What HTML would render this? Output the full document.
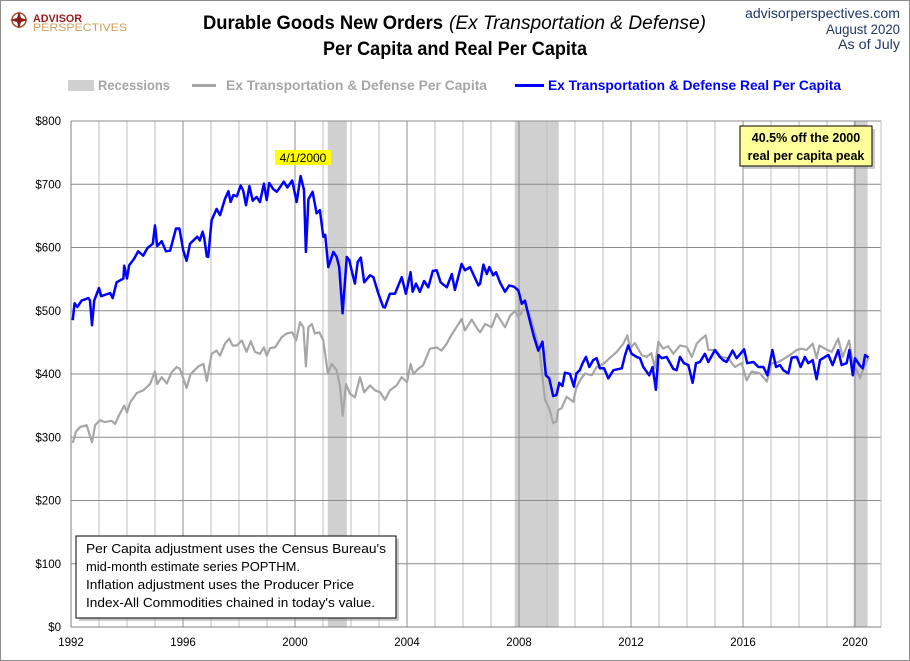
<!DOCTYPE html>
<html><head><meta charset="utf-8"><style>
body{margin:0;background:#fff;}
svg{display:block;font-family:"Liberation Sans",sans-serif;}
</style></head><body>
<svg id="chart" width="910" height="661" viewBox="0 0 910 661">
<rect x="0.5" y="0.5" width="909" height="660" fill="#fff" stroke="#8c8c8c"/>
<g>
<circle cx="19" cy="20" r="7" fill="none" stroke="#a0522d" stroke-width="1.5"/>
<path d="M19 11 L21 18 L28 20 L21 22 L19 29 L17 22 L10 20 L17 18 Z" fill="#8b1a1a"/>
<text x="33" y="22" font-size="11" font-weight="bold" fill="#9b1c1c" textLength="49" lengthAdjust="spacingAndGlyphs">ADVISOR</text>
<text x="33" y="31" font-size="11" fill="#c9a15a" textLength="94" lengthAdjust="spacingAndGlyphs">PERSPECTIVES</text>
</g>
<text x="203" y="29" font-size="19" font-weight="bold" fill="#000" textLength="240" lengthAdjust="spacingAndGlyphs">Durable Goods New Orders</text>
<text x="449" y="29" font-size="19" font-style="italic" fill="#000" textLength="257" lengthAdjust="spacingAndGlyphs">(Ex Transportation &amp; Defense)</text>
<text x="323" y="55" font-size="19" font-weight="bold" fill="#000" textLength="264" lengthAdjust="spacingAndGlyphs">Per Capita and Real Per Capita</text>
<g fill="#1f3864" font-size="14" text-anchor="end">
<text x="900" y="18" textLength="155" lengthAdjust="spacingAndGlyphs">advisorperspectives.com</text>
<text x="900" y="34" textLength="74" lengthAdjust="spacingAndGlyphs">August 2020</text>
<text x="900" y="49" textLength="62" lengthAdjust="spacingAndGlyphs">As of July</text>
</g>
<g>
<rect x="68" y="80" width="26" height="11" fill="#d0d0d0"/>
<text x="98" y="90" font-size="14" font-weight="bold" fill="#a6a6a6" textLength="72" lengthAdjust="spacingAndGlyphs">Recessions</text>
<line x1="192" y1="85.5" x2="216" y2="85.5" stroke="#a6a6a6" stroke-width="3"/>
<text x="226" y="90" font-size="14" font-weight="bold" fill="#a6a6a6" textLength="261" lengthAdjust="spacingAndGlyphs">Ex Transportation &amp; Defense Per Capita</text>
<line x1="515" y1="85.5" x2="544" y2="85.5" stroke="#0000ff" stroke-width="3"/>
<text x="548" y="90" font-size="14" font-weight="bold" fill="#0000ff" textLength="293" lengthAdjust="spacingAndGlyphs">Ex Transportation &amp; Defense Real Per Capita</text>
</g>
<g id="rec"></g>
<g id="grid"></g>
<g id="axes"></g>
<g id="series"></g>
<g>
<rect x="275" y="150" width="56" height="15" fill="#ffff00"/>
<text x="303" y="162" font-size="12" text-anchor="middle" fill="#000">4/1/2000</text>
</g>
<g>
<rect x="743" y="129" width="132" height="40" fill="#999" opacity="0.5"/>
<rect x="740" y="126" width="132" height="40" fill="#ffff99" stroke="#000"/>
<text x="806" y="142" font-size="12.5" font-weight="bold" text-anchor="middle">40.5% off the 2000</text>
<text x="806" y="160" font-size="12.5" font-weight="bold" text-anchor="middle">real per capita peak</text>
</g>
<g>
<rect x="79" y="539" width="320" height="82" fill="#999" opacity="0.5"/>
<rect x="76" y="536" width="320" height="82" fill="#fff" stroke="#000"/>
<g font-size="12.5" fill="#000">
<text x="86" y="553" textLength="300" lengthAdjust="spacingAndGlyphs">Per Capita adjustment uses the Census Bureau's</text>
<text x="86" y="571" textLength="214" lengthAdjust="spacingAndGlyphs">mid-month estimate series POPTHM.</text>
<text x="86" y="589" textLength="268" lengthAdjust="spacingAndGlyphs">Inflation adjustment uses the Producer Price</text>
<text x="86" y="607" textLength="289" lengthAdjust="spacingAndGlyphs">Index-All Commodities chained in today's value.</text>
</g>
</g>
</svg>
<script>
const yTicks=[0,100,200,300,400,500,600,700,800];
const xTickYears=[1992,1996,2000,2004,2008,2012,2016,2020];
const recStart=[2001.17,2007.85,2019.95];
const recEnd=[2001.85,2009.42,2020.45];
const realYears=[1992.06,1992.13,1992.23,1992.38,1992.62,1992.68,1992.75,1992.83,1993.0,1993.08,1993.4,1993.49,1993.63,1993.87,1993.9,1994.0,1994.08,1994.25,1994.4,1994.58,1994.73,1994.92,1995.0,1995.08,1995.24,1995.39,1995.54,1995.75,1995.87,1996.01,1996.13,1996.25,1996.51,1996.6,1996.7,1996.76,1996.85,1996.9,1997.02,1997.2,1997.32,1997.5,1997.62,1997.7,1997.8,1997.92,1998.06,1998.15,1998.25,1998.37,1998.49,1998.63,1998.75,1998.89,1998.99,1999.08,1999.23,1999.35,1999.6,1999.73,1999.9,2000.06,2000.2,2000.32,2000.39,2000.48,2000.63,2000.77,2000.89,2001.01,2001.08,2001.19,2001.37,2001.49,2001.58,2001.7,2001.85,2001.94,2002.02,2002.14,2002.24,2002.35,2002.47,2002.68,2002.8,2002.98,2003.15,2003.21,2003.39,2003.57,2003.81,2003.96,2004.13,2004.2,2004.32,2004.46,2004.61,2004.76,2004.92,2005.06,2005.2,2005.42,2005.6,2005.71,2005.95,2006.07,2006.25,2006.55,2006.61,2006.73,2006.85,2006.94,2007.08,2007.18,2007.32,2007.5,2007.65,2007.82,2007.98,2008.1,2008.21,2008.39,2008.54,2008.69,2008.84,2008.96,2009.08,2009.22,2009.34,2009.44,2009.55,2009.64,2009.82,2009.96,2010.05,2010.17,2010.27,2010.39,2010.51,2010.65,2010.77,2010.89,2011.04,2011.19,2011.37,2011.67,2011.79,2011.9,2012.02,2012.2,2012.32,2012.44,2012.65,2012.77,2012.89,2012.98,2013.1,2013.27,2013.51,2013.63,2013.75,2013.89,2014.05,2014.2,2014.32,2014.46,2014.64,2014.76,2015.0,2015.17,2015.29,2015.41,2015.63,2015.77,2016.04,2016.15,2016.37,2016.55,2016.73,2016.87,2017.05,2017.18,2017.32,2017.44,2017.62,2017.74,2017.92,2018.06,2018.21,2018.33,2018.49,2018.63,2018.75,2018.93,2019.05,2019.2,2019.4,2019.52,2019.7,2019.8,2019.92,2020.0,2020.16,2020.28,2020.36,2020.48];
const realValues=[485,512,506,516,520,516,477,516,536,523,528,520,545,551,571,551,572,582,594,587,599,606,635,602,610,594,595,630,630,595,579,606,617,611,625,614,586,585,643,661,651,677,689,672,683,681,698,690,667,697,674,680,672,701,675,702,692,688,704,695,706,672,713,691,593,676,688,654,659,617,620,569,593,585,569,496,585,580,564,543,577,584,545,556,553,527,506,505,527,527,553,527,561,530,543,530,547,537,563,564,545,537,558,533,574,564,569,540,543,573,558,569,556,561,545,530,540,538,532,511,516,484,458,437,451,398,393,365,367,386,381,402,400,380,401,406,417,427,411,422,425,409,409,393,406,409,430,445,432,427,425,411,398,411,375,430,425,427,408,406,427,417,414,386,417,419,432,419,438,427,422,419,437,425,439,417,419,411,411,398,438,411,414,406,401,426,427,411,427,417,422,392,422,427,430,414,438,414,417,438,398,425,414,409,430,426];
const nomYears=[1992.06,1992.18,1992.32,1992.56,1992.75,1992.86,1993.04,1993.21,1993.45,1993.57,1993.73,1993.9,1994.0,1994.11,1994.35,1994.58,1994.82,1995.0,1995.08,1995.24,1995.42,1995.6,1995.77,1995.89,1996.13,1996.27,1996.55,1996.73,1996.85,1997.02,1997.2,1997.32,1997.5,1997.65,1997.77,1997.92,1998.1,1998.27,1998.42,1998.57,1998.75,1998.89,1998.99,1999.11,1999.29,1999.52,1999.7,1999.9,2000.04,2000.18,2000.3,2000.39,2000.48,2000.6,2000.71,2000.87,2001.01,2001.17,2001.31,2001.49,2001.61,2001.7,2001.82,2001.96,2002.14,2002.32,2002.47,2002.68,2002.86,2003.04,2003.21,2003.39,2003.63,2003.81,2004.0,2004.13,2004.23,2004.4,2004.58,2004.82,2005.06,2005.23,2005.42,2005.54,2005.65,2005.95,2006.07,2006.31,2006.55,2006.61,2006.79,2007.02,2007.2,2007.5,2007.68,2007.86,2007.98,2008.15,2008.33,2008.45,2008.61,2008.75,2008.93,2009.08,2009.22,2009.34,2009.4,2009.52,2009.7,2009.94,2010.04,2010.18,2010.36,2010.6,2010.77,2011.01,2011.31,2011.49,2011.73,2011.87,2011.96,2012.14,2012.38,2012.55,2012.73,2012.85,2012.98,2013.15,2013.33,2013.51,2013.75,2013.99,2014.17,2014.35,2014.52,2014.67,2014.76,2015.0,2015.23,2015.47,2015.71,2015.95,2016.13,2016.31,2016.61,2016.85,2017.03,2017.27,2017.5,2017.74,2017.92,2018.1,2018.27,2018.49,2018.63,2018.73,2018.93,2019.17,2019.4,2019.56,2019.79,2019.92,2020.06,2020.18,2020.32,2020.48];
const nomValues=[291,309,316,319,292,319,327,324,326,321,336,350,339,355,370,374,384,404,384,395,385,403,411,408,378,400,412,416,389,432,437,429,448,456,445,445,453,435,452,435,432,442,429,441,442,458,464,466,453,482,474,412,474,479,464,466,453,401,416,406,379,334,384,369,363,395,371,382,374,371,359,374,382,395,387,416,400,408,414,440,442,437,448,458,466,487,469,486,469,466,479,474,495,474,492,500,490,501,500,484,458,432,359,346,322,325,343,346,364,356,377,390,401,398,411,416,428,435,448,461,440,449,430,427,433,409,451,440,444,432,445,443,427,448,456,461,438,438,427,425,411,417,390,404,401,388,417,419,425,432,438,440,438,448,425,445,440,435,456,427,453,417,406,393,411,425];

const NS='http://www.w3.org/2000/svg';
const L=71,R=881,T=121,B=627;
const xs=y=>L+(y-1992)*28;
const ys=v=>B-(v/800)*(B-T);
function mk(tag,attrs,parent){const e=document.createElementNS(NS,tag);for(const k in attrs)e.setAttribute(k,attrs[k]);parent.appendChild(e);return e;}
const grid=document.getElementById('grid');
for(let yr=1992;yr<=2020;yr++){
  const g=mk('line',{x1:xs(yr),x2:xs(yr),y1:T,y2:B,stroke:(yr%4===0)?'#8c8c8c':'#bfbfbf','stroke-width':1},grid);
  
  
}
yTicks.forEach(v=>{
  const g=mk('line',{x1:L,x2:R,y1:ys(v),y2:ys(v),stroke:'#8c8c8c','stroke-width':1},grid);
  
  
});
mk('line',{x1:R,x2:R,y1:T,y2:B,stroke:'#bfbfbf'},grid);
const rec=document.getElementById('rec');
recStart.forEach((s,i)=>{
  const r=mk('rect',{x:xs(s),y:T,width:xs(recEnd[i])-xs(s),height:B-T,fill:'#d0d0d0'},rec);
  
  
});
const axes=document.getElementById('axes');
mk('line',{x1:L,x2:L,y1:T,y2:B,stroke:'#7f7f7f'},axes);
mk('line',{x1:L,x2:R,y1:B,y2:B,stroke:'#7f7f7f'},axes);
yTicks.forEach(v=>{
  const t=mk('text',{x:L-10,y:ys(v)+4,'font-size':11.5,'text-anchor':'end',fill:'#000'},axes);
  t.textContent='$'+v;
  
  
});
xTickYears.forEach(yr=>{
  const t=mk('text',{x:xs(yr),y:B+19,'font-size':11.5,'text-anchor':'middle',fill:'#000'},axes);
  t.textContent=yr;
  
  
});
const series=document.getElementById('series');
function path(xa,va){return xa.map((x,i)=>(i?'L':'M')+xs(x).toFixed(1)+' '+ys(va[i]).toFixed(1)).join(' ');}
const pn=mk('path',{d:path(nomYears,nomValues),fill:'none',stroke:'#a6a6a6','stroke-width':2.2,'stroke-linejoin':'round'},series);


const pr=mk('path',{d:path(realYears,realValues),fill:'none',stroke:'#0000ff','stroke-width':2.5,'stroke-linejoin':'round'},series);


</script>
</body></html>
